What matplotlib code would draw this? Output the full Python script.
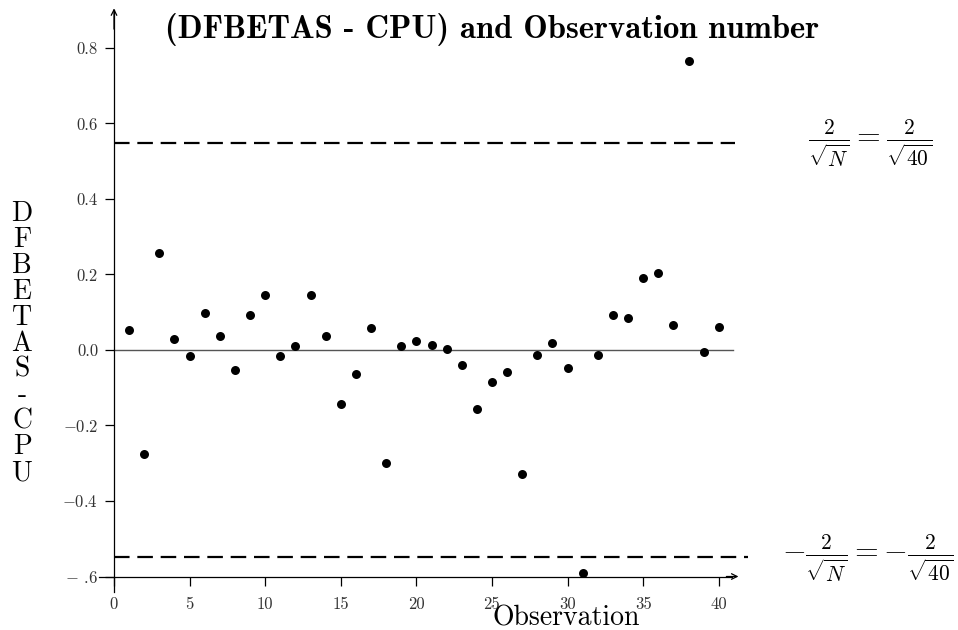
import matplotlib
matplotlib.use("Agg")
import matplotlib.pyplot as plt

# ---- data ----
observations = list(range(1, 41))
dfbetas_cpu = [0.053, -0.275, 0.258, 0.029, -0.016, 0.097, 0.037, -0.053, 0.094, 0.146,
               -0.017, 0.010, 0.147, 0.037, -0.143, -0.064, 0.058, -0.300, 0.010, 0.023,
               0.014, 0.002, -0.041, -0.156, -0.084, -0.059, -0.329, -0.014, 0.018, -0.049,
               -0.592, -0.013, 0.094, 0.086, 0.192, 0.205, 0.065, 0.766, -0.006, 0.062]
threshold = 0.548
x_ticks = [0, 5, 10, 15, 20, 25, 30, 35, 40]
x_tick_labels = ["0", "5", "10", "15", "20", "25", "30", "35", "40"]
y_ticks = [-0.6, -0.4, -0.2, 0.0, 0.2, 0.4, 0.6, 0.8]
y_tick_labels = [r"$-$ .6", r"$-$0.4", r"$-$0.2", "0.0", "0.2", "0.4", "0.6", "0.8"]
title = "(DFBETAS - CPU) and Observation number"
ylabel_letters = list("DFBETAS-CPU")
xlabel = "Observation"

plt.rcParams["font.family"] = "serif"
plt.rcParams["font.serif"] = ["cmr10", "DejaVu Serif"]
plt.rcParams["mathtext.fontset"] = "cm"
plt.rcParams["axes.unicode_minus"] = False

W, H = 958, 630
fig = plt.figure(figsize=(W / 100, H / 100), dpi=100)

# axes placed so that data maps to the reference pixels
px_l, px_r, px_t, px_b = 95, 750, 5, 600
ax = fig.add_axes([px_l / W, 1 - px_b / H, (px_r - px_l) / W, (px_b - px_t) / H])
x0px, xs = 114.0, 15.12
y0px, ys = 350.0, 377.5
ax.set_xlim((px_l - x0px) / xs, (px_r - x0px) / xs)
ax.set_ylim((y0px - px_b) / ys, (y0px - px_t) / ys)

for s in ["top", "right"]:
    ax.spines[s].set_visible(False)
ax.spines["left"].set_position(("data", 0))
ax.spines["bottom"].set_position(("data", -0.6))
ax.spines["left"].set_bounds(-0.64, 0.90)
ax.spines["bottom"].set_bounds(-1.0, 40.9)
ax.spines["left"].set_linewidth(0.9)
ax.spines["bottom"].set_linewidth(0.9)

# arrow heads
ax.annotate("", xy=(0, 0.905), xytext=(0, 0.85),
            arrowprops=dict(arrowstyle="->", lw=0.9, color="black", shrinkA=0, shrinkB=0))
ax.annotate("", xy=(41.3, -0.6), xytext=(40.5, -0.6),
            arrowprops=dict(arrowstyle="->", lw=0.9, color="black", shrinkA=0, shrinkB=0))

ax.set_xticks(x_ticks)
ax.set_xticklabels(x_tick_labels)
ax.set_yticks(y_ticks)
ax.set_yticklabels(y_tick_labels)
ax.tick_params(axis="both", direction="out", length=6.5, width=0.9, labelsize=12,
               colors="black")
ax.tick_params(axis="y", pad=5)
ax.tick_params(axis="x", pad=8)
for lab in ax.get_xticklabels() + ax.get_yticklabels():
    lab.set_color("#333333")

# reference lines
ax.plot([0, 40.94], [0, 0], color="#555555", lw=1.0, zorder=1)
ax.plot([0, 41.07], [threshold, threshold], color="black", lw=1.6, dashes=(7, 3.5), zorder=1)
ax.plot([0, 41.9], [-threshold, -threshold], color="black", lw=1.6, dashes=(7, 3.5), zorder=1)

# points
ax.scatter(observations, dfbetas_cpu, s=42, color="black", zorder=3, linewidths=0)

# texts
fig.text(492 / W, 1 - 29 / H, title, ha="center", va="center", fontsize=23.5,
         family="cmb10")
for i, ch in enumerate(ylabel_letters):
    fig.text(22 / W, 1 - (214 + i * 25.9) / H, ch, ha="center", va="center", fontsize=20)
fig.text(566 / W, 1 - 625 / H, xlabel, ha="center", va="baseline", fontsize=20)

fig.text(870 / W, 1 - 144 / H, r"$\frac{2}{\sqrt{N}}=\frac{2}{\sqrt{40}}$",
         ha="center", va="center", fontsize=22)
fig.text(868 / W, 1 - 559 / H, r"$-\frac{2}{\sqrt{N}}=-\frac{2}{\sqrt{40}}$",
         ha="center", va="center", fontsize=22)

fig.savefig("out.png", dpi=100)
